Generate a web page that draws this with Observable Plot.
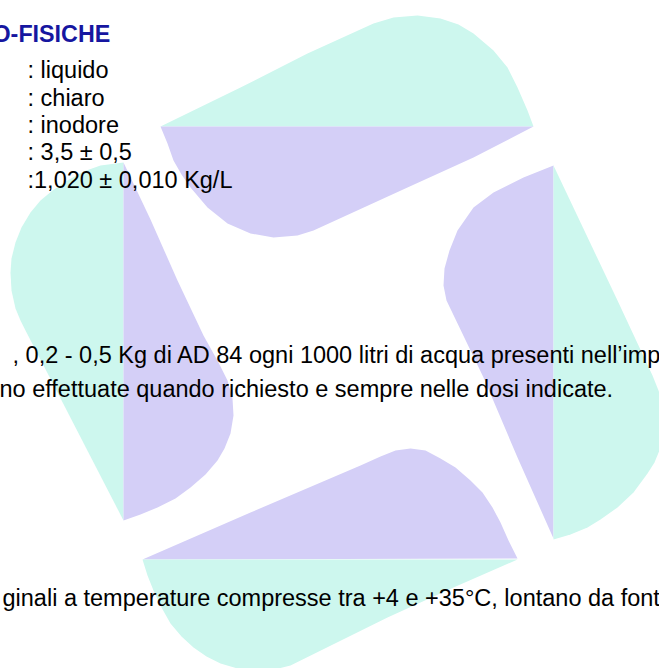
<!DOCTYPE html>
<html>
<head>
<meta charset="utf-8">
<script src="https://cdn.jsdelivr.net/npm/d3@7"></script>
<script src="https://cdn.jsdelivr.net/npm/@observablehq/plot@0.6"></script>
<style>
  html, body { margin: 0; padding: 0; background: #ffffff; overflow: hidden; }
  #chart svg { display: block; }
</style>
</head>
<body>
<div id="chart"></div>
<script>
// ---- watermark logo: eight half-petals, outlines ----
const topTeal = [[160,126],[240,87],[307,53],[373,23],[393,17],[417,15],[440,18],[458,24],[473,33],[493,50],[507,67],[517,87],[527,110],[533,126]];
const topLavender = [[160,126],[167,143],[173,160],[181,174],[190,187],[207,207],[227,223],[250,233],[273,237],[297,235],[313,230],[407,187],[473,157],[533,126]];
const rightLavender = [[553,165],[523,177],[493,192],[473,207],[457,230],[449,250],[444,268],[443,285],[446,300],[483,377],[517,457],[553,538]];
const rightTeal = [[553,165],[617,300],[652,375],[660,395],[663,420],[661,445],[654,462],[647,473],[633,492],[617,507],[600,519],[587,527],[570,534],[553,539]];
const leftTeal = [[123,162],[100,165],[83,171],[67,180],[52,190],[40,200],[30,212],[21,227],[15,242],[11,258],[10,272],[11,290],[15,308],[20,320],[25,330],[123,520]];
const leftLavender = [[123,162],[150,219],[177,280],[203,335],[218,362],[227,380],[232,398],[233,415],[230,433],[224,448],[217,460],[205,474],[190,487],[175,498],[157,507],[140,514],[123,520]];
const bottomLavender = [[142,559],[250,512],[360,465],[380,456],[395,450],[410,448],[425,450],[440,458],[455,467],[470,480],[482,492],[492,507],[500,522],[508,540],[517,558]];
const bottomTeal = [[142,559],[147,575],[153,590],[161,607],[170,623],[181,636],[193,647],[206,656],[220,663],[237,668],[253,670],[270,670],[290,665],[387,617],[453,587],[517,559]];

const petals = [
  ["top-outer", "outer", topTeal],
  ["top-inner", "inner", topLavender],
  ["right-inner", "inner", rightLavender],
  ["right-outer", "outer", rightTeal],
  ["left-outer", "outer", leftTeal],
  ["left-inner", "inner", leftLavender],
  ["bottom-inner", "inner", bottomLavender],
  ["bottom-outer", "outer", bottomTeal]
];
const petalKinds = ["outer", "inner"];
const petalColors = ["#cdf7ee", "#d4cff7"];

// ---- document text ----
const titleText = ["O-FISICHE"];
const titleX = [-8];
const titleY = [41.7];

const bodyText = [
  ": liquido",
  ": chiaro",
  ": inodore",
  ": 3,5 ± 0,5",
  ":1,020 ± 0,010 Kg/L",
  ", 0,2 - 0,5 Kg di AD 84 ogni 1000 litri di acqua presenti nell’imp",
  "no effettuate quando richiesto e sempre nelle dosi indicate.",
  "ginali a temperature compresse tra +4 e +35°C, lontano da font"
];
const bodyX = [27, 27, 27, 27, 27, 12, -1, 2];
const bodyY = [77, 105, 132, 159.5, 187, 362, 396, 605];

// build tables
const petalRows = petals.flatMap(([id, kind, pts]) => pts.map(([x, y]) => ({id, kind, x, y})));
const titleRows = titleText.map((t, i) => ({t, x: titleX[i], y: titleY[i]}));
const bodyRows = bodyText.map((t, i) => ({t, x: bodyX[i], y: bodyY[i]}));

const W = 659, H = 668;
const font = "'Liberation Sans', Arial, Helvetica, sans-serif";

const chart = Plot.plot({
  width: W,
  height: H,
  margin: 0,
  x: {domain: [0, W], axis: null},
  y: {domain: [H, 0], axis: null},
  color: {type: "ordinal", domain: petalKinds, range: petalColors},
  style: {background: "#ffffff", fontFamily: font},
  marks: [
    Plot.line(petalRows, {x: "x", y: "y", z: "id", fill: "kind", stroke: "none", curve: "linear"}),
    Plot.text(titleRows, {x: "x", y: "y", text: "t", textAnchor: "start", lineAnchor: "bottom",
      fontSize: 23.3, fontWeight: "bold", fill: "#1616a0", fontFamily: font}),
    Plot.text(bodyRows, {x: "x", y: "y", text: "t", textAnchor: "start", lineAnchor: "bottom",
      fontSize: 23.5, fill: "#000000", fontFamily: font})
  ]
});
document.getElementById("chart").appendChild(chart);
</script>
</body>
</html>
